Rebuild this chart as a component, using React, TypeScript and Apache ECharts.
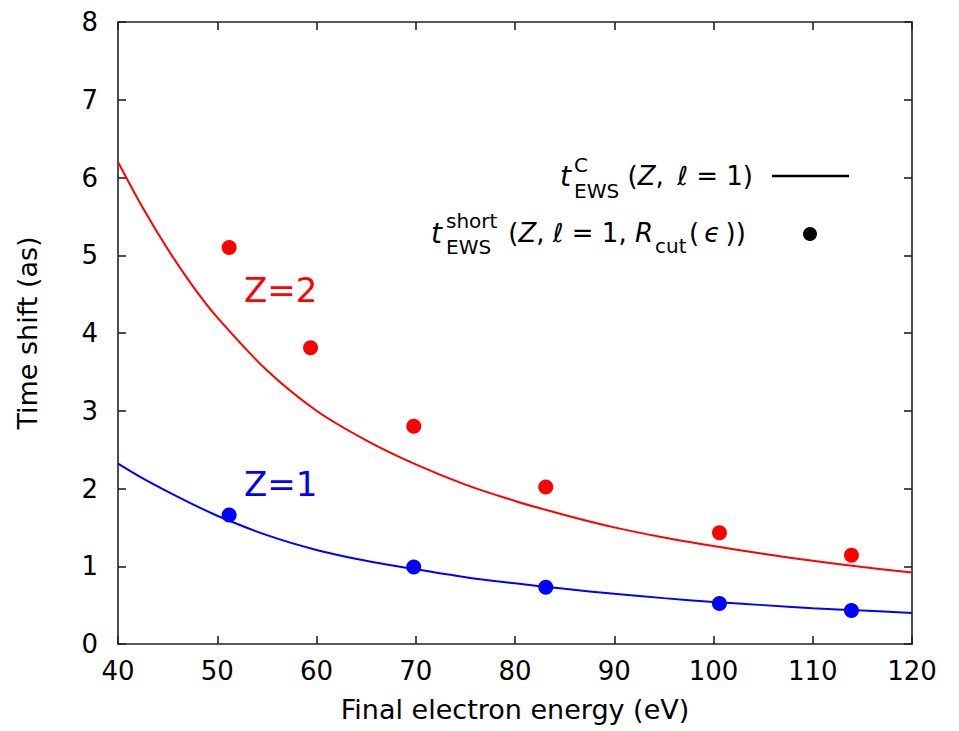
import React, { useEffect, useRef } from "react";
import * as echarts from "echarts";

const energyGrid = [40, 42.5, 45, 47.5, 50, 55, 60, 65, 70, 75, 80, 85, 90, 95, 100, 105, 110, 115, 120];
const curveZ2 = [6.2, 5.61, 5.08, 4.61, 4.2, 3.52, 3.0, 2.62, 2.31, 2.05, 1.84, 1.66, 1.5, 1.37, 1.26, 1.16, 1.07, 0.99, 0.92];
const curveZ1 = [2.32, 2.13, 1.96, 1.8, 1.65, 1.4, 1.21, 1.07, 0.96, 0.86, 0.78, 0.71, 0.645, 0.59, 0.54, 0.5, 0.46, 0.43, 0.4];

// t^short_EWS points
const pointsZ2Energy = [51.2, 59.4, 69.8, 83.1, 100.6, 113.9];
const pointsZ2 = [5.1, 3.81, 2.8, 2.02, 1.43, 1.14];
const pointsZ1Energy = [51.2, 69.8, 83.1, 100.6, 113.9];
const pointsZ1 = [1.66, 0.99, 0.73, 0.52, 0.43];

const xRange = [40, 120];
const yRange = [0, 8];

const FONT = "DejaVu Sans";

export default function App() {
  const ref = useRef<HTMLDivElement>(null);
  useEffect(() => {
    if (!ref.current) return;
    const chart = echarts.init(ref.current, undefined, { renderer: "svg" });
    const axisLine = { show: true, onZero: false, lineStyle: { color: "#222", width: 1.6 } };
    const axisTick = { show: true, inside: true, length: 8, lineStyle: { color: "#222", width: 1.6 } };
    const labelStyle = { fontSize: 26, color: "#000", fontFamily: FONT };
    const M = 26; // legend main font size
    const S = 20; // legend sub/superscript size
    const rich = { i: { fontStyle: "italic", fontSize: M, fontFamily: FONT, color: "#000", fill: "#000" } };
    const txt = (x: number, y: number, text: string, size: number, opts: any = {}) => ({
      type: "text",
      x,
      y,
      style: {
        text,
        fill: opts.fill || "#000",
        fontSize: size,
        fontFamily: FONT,
        fontStyle: opts.italic ? "italic" : "normal",
        align: opts.align || "left",
        textAlign: opts.align || "left",
        verticalAlign: "middle",
        textVerticalAlign: "middle",
        rich: opts.rich ? rich : undefined,
      },
    });
    const th = "\u2009";
    chart.setOption({
      animation: false,
      backgroundColor: "#fff",
      grid: { left: 118, right: 47, top: 22, bottom: 87 },
      xAxis: [
        {
          type: "value",
          min: xRange[0],
          max: xRange[1],
          interval: 10,
          position: "bottom",
          axisLine,
          axisTick,
          splitLine: { show: false },
          axisLabel: { ...labelStyle, margin: 14 },
          name: "Final electron energy (eV)",
          nameLocation: "middle",
          nameGap: 52,
          nameTextStyle: { fontSize: 27, color: "#000", fontFamily: FONT },
        },
        {
          type: "value",
          min: xRange[0],
          max: xRange[1],
          interval: 10,
          position: "top",
          axisLine,
          axisTick,
          splitLine: { show: false },
          axisLabel: { show: false },
        },
      ],
      yAxis: [
        {
          type: "value",
          min: yRange[0],
          max: yRange[1],
          interval: 1,
          position: "left",
          axisLine,
          axisTick,
          splitLine: { show: false },
          axisLabel: { ...labelStyle, margin: 20 },
          name: "Time shift (as)",
          nameLocation: "middle",
          nameGap: 77,
          nameTextStyle: { fontSize: 27, color: "#000", fontFamily: FONT },
        },
        {
          type: "value",
          min: yRange[0],
          max: yRange[1],
          interval: 1,
          position: "right",
          axisLine,
          axisTick,
          splitLine: { show: false },
          axisLabel: { show: false },
        },
      ],
      series: [
        {
          type: "line",
          data: energyGrid.map((e, i) => [e, curveZ2[i]]),
          smooth: 0.3,
          showSymbol: false,
          lineStyle: { color: "#ff0000", width: 2 },
          z: 2,
        },
        {
          type: "line",
          data: energyGrid.map((e, i) => [e, curveZ1[i]]),
          smooth: 0.3,
          showSymbol: false,
          lineStyle: { color: "#0000ff", width: 2 },
          z: 2,
        },
        {
          type: "scatter",
          data: pointsZ2Energy.map((e, i) => [e, pointsZ2[i]]),
          symbolSize: 15,
          itemStyle: { color: "#ff0000", opacity: 1 },
          z: 3,
        },
        {
          type: "scatter",
          data: pointsZ1Energy.map((e, i) => [e, pointsZ1[i]]),
          symbolSize: 15,
          itemStyle: { color: "#0000ff", opacity: 1 },
          z: 3,
        },
      ],
      graphic: [
        txt(244, 290, "Z=2", 34, { fill: "#ff0000" }),
        txt(244, 484, "Z=1", 34, { fill: "#0000ff" }),
        // legend line 1: t^C_EWS(Z, l = 1)
        txt(560, 176, "t", 28, { italic: true }),
        txt(574, 165, "C", S),
        txt(574, 191, "EWS", S),
        txt(753, 176, `({i|Z},${th} {i|ℓ} = 1)`, M, { align: "right", rich: true }),
        { type: "line", shape: { x1: 772, y1: 176, x2: 849, y2: 176 }, style: { stroke: "#000", lineWidth: 2.5 } },
        // legend line 2: t^short_EWS(Z, l = 1, R_cut(eps))
        txt(431, 233, "t", 28, { italic: true }),
        txt(446, 221, "short", S),
        txt(446, 247, "EWS", S),
        txt(653, 233, `({i|Z}, {i|ℓ} = 1, {i|R}`, M, { align: "right", rich: true }),
        txt(655, 246, "cut", S),
        txt(689, 233, `(${th}{i|ϵ}${th}))`, M, { rich: true }),
        { type: "circle", shape: { cx: 810, cy: 234, r: 7 }, style: { fill: "#000" } },
      ],
    });
    return () => chart.dispose();
  }, []);
  return <div ref={ref} style={{ width: 959, height: 731, marginLeft: -8, marginTop: -8 }} />;
}
